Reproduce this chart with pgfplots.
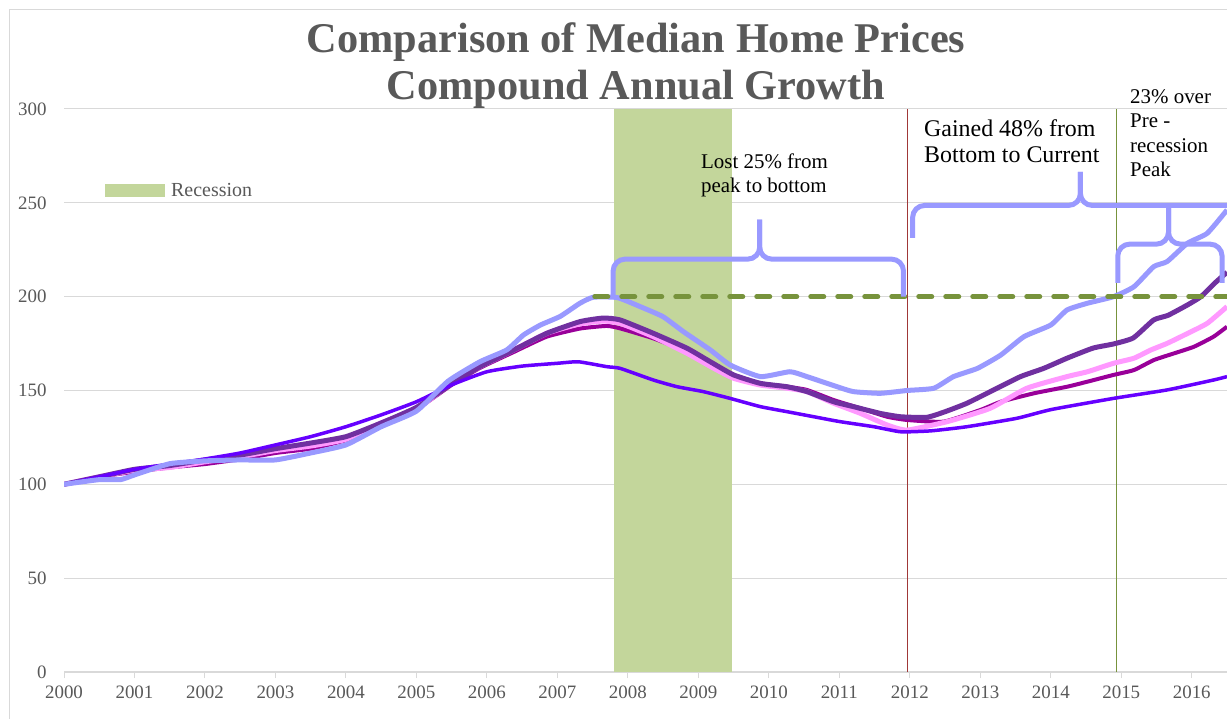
\documentclass[border=0pt]{standalone}
\usepackage{pgfplots}
\pgfplotsset{compat=1.18}
\usepackage{fontspec}
\setmainfont{Liberation Serif}
\definecolor{vi}{HTML}{6600FF}
\definecolor{lp}{HTML}{9999FF}
\definecolor{dp}{HTML}{7030A0}
\definecolor{mg}{HTML}{990099}
\definecolor{pk}{HTML}{FF99FF}
\definecolor{recg}{HTML}{C3D69B}
\definecolor{olive}{HTML}{77933C}
\definecolor{redl}{HTML}{A03838}
\definecolor{txtg}{HTML}{595959}
\definecolor{gridg}{HTML}{D9D9D9}
\begin{document}
\begin{tikzpicture}
\path[use as bounding box] (0,0) rectangle (1227bp,719bp);
\fill[white] (0,0) rectangle (1227bp,719bp);
\draw[gridg, line width=1.2bp] (9.5bp,0) -- (9.5bp,709.5bp) -- (1227bp,709.5bp);
\begin{axis}[
  at={(64bp,47bp)}, anchor=south west,
  scale only axis, width=1163bp, height=563bp,
  xmin=2000, xmax=2016.5, ymin=0, ymax=300,
  xtick={2000,2001,...,2016}, ytick={0,50,...,300},
  axis x line=bottom, axis y line=left,
  x axis line style={draw=gridg, line width=1.2bp, -},
  y axis line style={draw=none},
  xtick style={draw=gridg, line width=1bp},
  ytick style={draw=none},
  tick align=outside, major tick length=6bp,
  ymajorgrids, grid style={draw=gridg, line width=1bp},
  /pgf/number format/assume math mode=true,
  /pgf/number format/1000 sep={},
  ticklabel style={font=\fontsize{19}{22}\selectfont, text=txtg},
  xticklabel style={yshift=-4bp},
  yticklabel style={xshift=-8bp},
  every axis plot/.append style={no markers, line join=round},
]
% recession band
\addplot[fill=recg, draw=none] coordinates {(2007.8,300) (2009.48,300)} \closedcycle;
% vertical markers
\addplot[redl, line width=1.5bp] coordinates {(2011.97,0) (2011.97,300)};
\addplot[olive, line width=1.3bp] coordinates {(2014.93,0) (2014.93,300)};
% magenta
\addplot[mg, line width=4bp, smooth, tension=0.3] coordinates {(2000,100) (2000.5,104) (2001,106.7) (2001.5,109) (2002,110.8) (2002.5,113.4) (2003,116.7) (2003.5,119) (2004,123.6) (2004.5,132.7) (2005,140) (2005.5,153) (2005.9,162) (2006.38,170.5) (2006.85,178.7) (2007.32,183) (2007.7,184.4) (2007.89,183.1) (2008.36,177.8) (2008.84,170.7) (2009.22,162.7) (2009.55,157.4) (2009.88,153.8) (2010.26,152) (2010.54,150.3) (2010.92,144.9) (2011.3,140.5) (2011.68,136) (2011.96,134.3) (2012.48,133.4) (2013.0,139.6) (2013.29,144) (2013.76,148.5) (2014.23,152) (2014.52,154.7) (2014.89,158.3) (2015.18,160.9) (2015.46,166.2) (2015.75,169.8) (2016.03,173.3) (2016.31,178.7) (2016.5,184)};
% light pink
\addplot[pk, line width=5bp, smooth, tension=0.3] coordinates {(2000,100) (2000.5,104) (2001,107.5) (2001.5,109) (2002,112) (2002.5,114.7) (2003,118) (2003.5,120.4) (2004,124) (2004.5,132.7) (2005,140) (2005.5,154) (2005.9,162.7) (2006.38,171.6) (2006.85,180.5) (2007.32,185.5) (2007.65,187) (2007.89,185.8) (2008.36,178.7) (2008.84,169.8) (2009.22,161.8) (2009.5,156.5) (2009.88,152.9) (2010.26,151.2) (2010.54,149.4) (2010.92,143.2) (2011.3,137.8) (2011.68,131.6) (2011.96,128.9) (2012.53,133.4) (2013.14,140.5) (2013.66,151.2) (2014.23,157.4) (2014.52,160) (2014.89,164.5) (2015.18,167.2) (2015.42,171.6) (2015.65,175.1) (2015.94,180.4) (2016.22,185.8) (2016.5,194.7)};
% dark purple
\addplot[dp, line width=5bp, smooth, tension=0.3] coordinates {(2000,100) (2000.5,104) (2001,108) (2001.5,110) (2002,113) (2002.5,115.6) (2003,119) (2003.5,122) (2004,125.4) (2004.5,132.7) (2005,141) (2005.5,153.5) (2005.9,162.7) (2006.38,171.6) (2006.85,180.5) (2007.32,186.7) (2007.65,188.6) (2007.89,187.6) (2008.36,180.5) (2008.84,172.5) (2009.17,165.3) (2009.5,158.3) (2009.88,153.8) (2010.26,152) (2010.54,149.4) (2010.92,144) (2011.2,141.4) (2011.58,137.8) (2011.87,136) (2012.24,135.7) (2012.5,138.7) (2012.81,143.2) (2013.19,150.3) (2013.57,157.4) (2013.9,161.8) (2014.23,167.2) (2014.6,172.6) (2014.89,174.8) (2015.17,178) (2015.46,187.6) (2015.66,190) (2015.94,195.6) (2016.13,200) (2016.32,207) (2016.5,213)};
% violet
\addplot[vi, line width=3.5bp, smooth, tension=0.3] coordinates {(2000,100) (2000.5,104) (2001,108) (2001.5,110.8) (2002,113.5) (2002.5,116.7) (2003,121) (2003.5,125.4) (2004,130.7) (2004.5,137) (2005,144) (2005.5,153) (2006,160) (2006.5,163) (2007,164.5) (2007.3,165.3) (2007.7,162.7) (2007.89,161.8) (2008.36,155.6) (2008.7,152) (2009.07,149.4) (2009.45,145.8) (2009.88,141.4) (2010.26,138.7) (2010.64,136) (2011.01,133.4) (2011.49,130.7) (2011.87,128) (2012.3,128.5) (2012.81,130.7) (2013.52,135.2) (2014,139.8) (2014.89,145.8) (2015.65,150.3) (2016.31,155.6) (2016.5,157.4)};
% light periwinkle
\addplot[lp, line width=5bp, smooth, tension=0.3] coordinates {(2000,100) (2000.5,102.5) (2000.8,102.5) (2001,105) (2001.5,111) (2002,112.5) (2002.5,113) (2003,113) (2003.5,116.7) (2004,121) (2004.5,130.7) (2005,139) (2005.45,155) (2005.9,165.3) (2006.28,171.6) (2006.52,179.6) (2006.76,184.9) (2007.04,189.5) (2007.32,196.5) (2007.51,199.7) (2007.85,199.5) (2008.18,194.6) (2008.5,189.3) (2008.79,181.3) (2009.17,171.6) (2009.45,163.6) (2009.88,157.4) (2010.3,160) (2010.54,157.4) (2010.97,152) (2011.2,149.4) (2011.58,148.5) (2011.96,150) (2012.34,151.2) (2012.62,157.4) (2012.96,161.8) (2013.29,168.9) (2013.62,178.7) (2014.0,184.9) (2014.23,192.9) (2014.52,196.5) (2014.89,200) (2015.18,205.3) (2015.46,216) (2015.65,218.7) (2015.94,228.5) (2016.22,233.8) (2016.5,246.2)};
% pre-recession peak level
\addplot[olive, line width=5bp, line cap=round, dash pattern=on 13bp off 14bp] coordinates {(2007.53,200) (2016.5,200)};
% braces
\tikzset{brc/.style={lp, line width=5bp, rounded corners=12bp}}
\draw[brc] (axis cs:2007.79,200) -- (axis cs:2007.79,220) -- (axis cs:2009.87,220) -- (axis cs:2009.87,241);
\draw[brc] (axis cs:2009.87,241) -- (axis cs:2009.87,220) -- (axis cs:2011.91,220) -- (axis cs:2011.91,200);
\draw[brc] (axis cs:2012.04,231.3) -- (axis cs:2012.04,248.6) -- (axis cs:2014.42,248.6) -- (axis cs:2014.42,266.5);
\draw[brc] (axis cs:2014.42,266.5) -- (axis cs:2014.42,248.6) -- (axis cs:2016.8,248.6) -- (axis cs:2016.8,231.3);
\draw[brc] (axis cs:2014.95,207.4) -- (axis cs:2014.95,228) -- (axis cs:2015.67,228) -- (axis cs:2015.67,248.6);
\draw[brc] (axis cs:2015.67,248.6) -- (axis cs:2015.67,228) -- (axis cs:2016.43,228) -- (axis cs:2016.43,207.4);
\end{axis}
% title
\node[anchor=base, font=\fontsize{42.5}{50}\selectfont\bfseries, text=txtg] at (636bp,666bp) {Comparison of Median Home Prices};
\node[anchor=base, font=\fontsize{42.5}{50}\selectfont\bfseries, text=txtg] at (636bp,619.5bp) {Compound Annual Growth};
% legend
\fill[recg] (105bp,522bp) rectangle (165bp,535bp);
\node[anchor=base west, inner sep=0pt, font=\fontsize{20}{24}\selectfont, text=txtg] at (171bp,522bp) {Recession};
% annotations
\begin{scope}[every node/.style={anchor=base west, inner sep=0pt, text=black}]
\node[font=\fontsize{21}{25}\selectfont] at (701bp,550bp) {Lost 25\% from};
\node[font=\fontsize{21}{25}\selectfont] at (701bp,526bp) {peak to bottom};
\node[font=\fontsize{24}{28}\selectfont] at (924bp,582bp) {Gained 48\% from};
\node[font=\fontsize{24}{28}\selectfont] at (924bp,556bp) {Bottom to Current};
\node[font=\fontsize{21}{25}\selectfont] at (1130bp,615bp) {23\% over};
\node[font=\fontsize{21}{25}\selectfont] at (1130bp,591bp) {Pre -};
\node[font=\fontsize{21}{25}\selectfont] at (1130bp,566bp) {recession};
\node[font=\fontsize{21}{25}\selectfont] at (1130bp,542bp) {Peak};
\end{scope}
\end{tikzpicture}
\end{document}
